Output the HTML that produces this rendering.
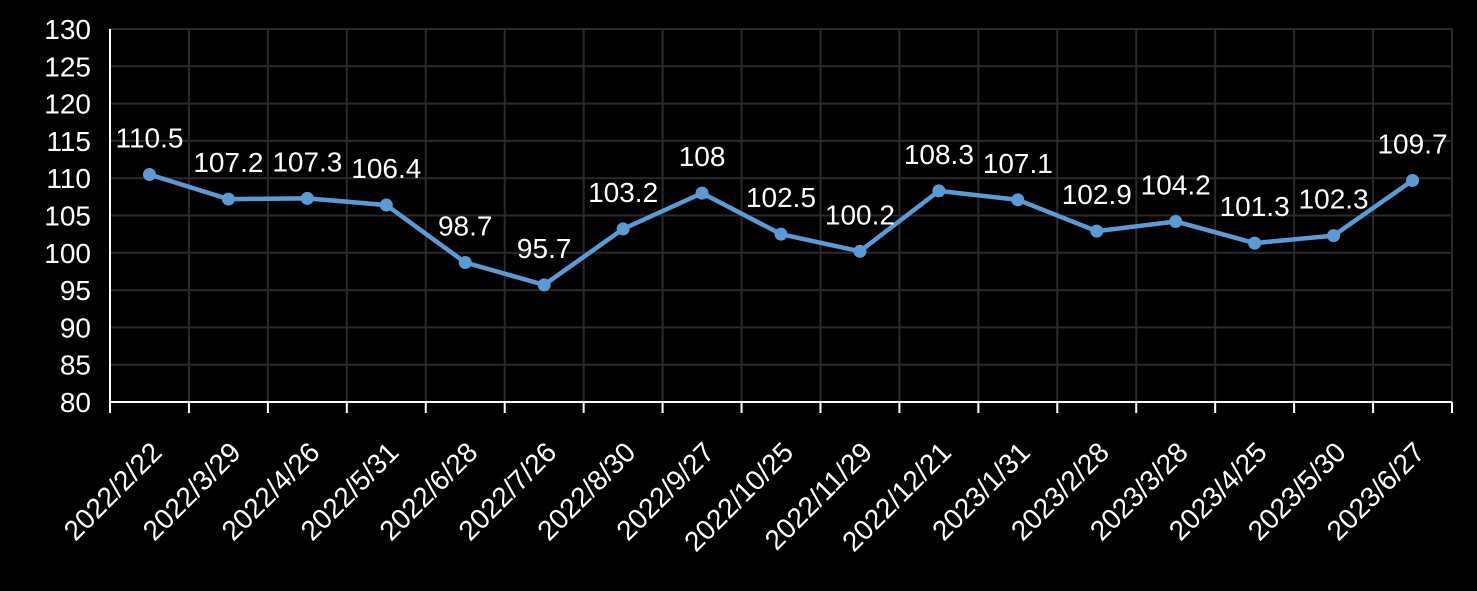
<!DOCTYPE html>
<html><head><meta charset="utf-8"><style>
html,body{margin:0;padding:0;background:#000;}
svg{display:block;font-family:"Liberation Sans","DejaVu Sans",sans-serif;}
</style></head><body>
<svg width="1477" height="591" xmlns="http://www.w3.org/2000/svg">
<g id="c"></g>
</svg>
<script>
const s=document.querySelector('#c');
const ns='http://www.w3.org/2000/svg';
function el(t,a,txt){const e=document.createElementNS(ns,t);for(const k in a)e.setAttribute(k,a[k]);if(txt!==undefined)e.textContent=txt;s.appendChild(e);return e;}
const x0=110,x1=1452,yT=29,yB=402;
const Y=v=>yB-(v-80)*(yB-yT)/50;
const n=17,w=(x1-x0)/n;
const dates=["2022/2/22","2022/3/29","2022/4/26","2022/5/31","2022/6/28","2022/7/26","2022/8/30","2022/9/27","2022/10/25","2022/11/29","2022/12/21","2023/1/31","2023/2/28","2023/3/28","2023/4/25","2023/5/30","2023/6/27"];
const vals=[110.5,107.2,107.3,106.4,98.7,95.7,103.2,108,102.5,100.2,108.3,107.1,102.9,104.2,101.3,102.3,109.7];
for(let v=85;v<=130;v+=5)el('line',{x1:x0,x2:x1,y1:Y(v),y2:Y(v),stroke:'#2a2a2a','stroke-width':2});
for(let i=1;i<=n;i++)el('line',{x1:x0+i*w,x2:x0+i*w,y1:yT,y2:yB,stroke:'#2a2a2a','stroke-width':2});
for(let v=80;v<=130;v+=5)el('text',{x:91,y:Y(v)+10,'text-anchor':'end','font-size':28,fill:'#fff'},v);
el('line',{x1:x0,x2:x0,y1:yT,y2:yB+11,stroke:'#fff','stroke-width':2});
el('line',{x1:x0,x2:x1,y1:yB,y2:yB,stroke:'#fff','stroke-width':2});
for(let i=1;i<=n;i++)el('line',{x1:x0+i*w,x2:x0+i*w,y1:yB,y2:yB+11,stroke:'#fff','stroke-width':2});
dates.forEach((d,i)=>{const cx=x0+(i+0.5)*w+14,cy=454;el('text',{x:cx,y:cy,'text-anchor':'end','font-size':28,fill:'#fff',transform:`rotate(-45 ${cx} ${cy})`},d);});
el('polyline',{points:vals.map((v,i)=>`${x0+(i+0.5)*w},${Y(v)}`).join(' '),fill:'none',stroke:'#5b9bd5','stroke-width':4.5,'stroke-linejoin':'round'});
vals.forEach((v,i)=>{const cx=x0+(i+0.5)*w;el('circle',{cx,cy:Y(v),r:6.5,fill:'#5b9bd5'});el('text',{x:cx,y:Y(v)-27,'text-anchor':'middle','font-size':28,fill:'#fff'},v);});
</script>
</body></html>
